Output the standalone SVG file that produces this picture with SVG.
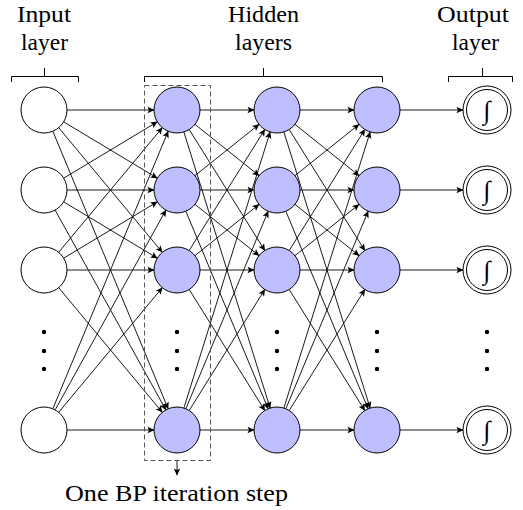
<svg xmlns="http://www.w3.org/2000/svg" width="523" height="510" viewBox="0 0 523 510">
<defs>
<marker id="ah" markerUnits="userSpaceOnUse" viewBox="-8 -4 9 8" markerWidth="9" markerHeight="8" refX="0" refY="0" orient="auto" overflow="visible">
<path d="M0.5,0 L-6.5,-3.2 L-5,0 L-6.5,3.2 Z" fill="#000"/>
</marker>
</defs>
<rect width="523" height="510" fill="#fff"/>

<g id="labels" font-family="Liberation Serif" font-size="23" fill="#000" text-anchor="middle">
<text x="44" y="21.5" textLength="54" lengthAdjust="spacingAndGlyphs">Input</text>
<text x="44.5" y="49.5" textLength="47" lengthAdjust="spacingAndGlyphs">layer</text>
<text x="263.5" y="21.5" textLength="71" lengthAdjust="spacingAndGlyphs">Hidden</text>
<text x="263.5" y="49.5" textLength="57" lengthAdjust="spacingAndGlyphs">layers</text>
<text x="473" y="21.5" textLength="72" lengthAdjust="spacingAndGlyphs">Output</text>
<text x="475.5" y="49.5" textLength="47" lengthAdjust="spacingAndGlyphs">layer</text>
<text x="176.5" y="500.5" textLength="223" lengthAdjust="spacingAndGlyphs">One BP iteration step</text>
</g>

<g id="brackets" fill="none" stroke="#000" stroke-width="1">
<path d="M11.5,82 V76.5 H78.5 V82 M44.5,76.5 V68"/>
<path d="M144.5,82 V76.5 H382.5 V82 M263.5,76.5 V68"/>
<path d="M448.5,82 V76.5 H512.5 V82 M482.5,76.5 V68"/>
</g>

<g id="connectors" stroke="#000" stroke-width="0.9" marker-end="url(#ah)">
<line x1="67" y1="110" x2="154" y2="110"/>
<line x1="63.71" y1="121.85" x2="157.29" y2="178.15"/>
<line x1="58.70" y1="127.69" x2="162.30" y2="252.31"/>
<line x1="52.83" y1="131.24" x2="168.17" y2="408.76"/>
<line x1="63.71" y1="178.15" x2="157.29" y2="121.85"/>
<line x1="67" y1="190" x2="154" y2="190"/>
<line x1="63.71" y1="201.85" x2="157.29" y2="258.15"/>
<line x1="55.15" y1="210.12" x2="165.85" y2="409.88"/>
<line x1="58.70" y1="252.31" x2="162.30" y2="127.69"/>
<line x1="63.71" y1="258.15" x2="157.29" y2="201.85"/>
<line x1="67" y1="270" x2="154" y2="270"/>
<line x1="58.70" y1="287.69" x2="162.30" y2="412.31"/>
<line x1="52.83" y1="408.76" x2="168.17" y2="131.24"/>
<line x1="55.15" y1="409.88" x2="165.85" y2="210.12"/>
<line x1="58.70" y1="412.31" x2="162.30" y2="287.69"/>
<line x1="67" y1="430" x2="154" y2="430"/>

<line x1="200" y1="110" x2="254" y2="110"/>
<line x1="194.96" y1="124.37" x2="259.04" y2="175.63"/>
<line x1="189.19" y1="129.50" x2="264.81" y2="250.50"/>
<line x1="183.86" y1="131.95" x2="270.14" y2="408.05"/>
<line x1="194.96" y1="175.63" x2="259.04" y2="124.37"/>
<line x1="200" y1="190" x2="254" y2="190"/>
<line x1="194.96" y1="204.37" x2="259.04" y2="255.63"/>
<line x1="185.85" y1="211.23" x2="268.15" y2="408.77"/>
<line x1="189.19" y1="250.50" x2="264.81" y2="129.50"/>
<line x1="194.96" y1="255.63" x2="259.04" y2="204.37"/>
<line x1="200" y1="270" x2="254" y2="270"/>
<line x1="189.19" y1="289.50" x2="264.81" y2="410.50"/>
<line x1="183.86" y1="408.05" x2="270.14" y2="131.95"/>
<line x1="185.85" y1="408.77" x2="268.15" y2="211.23"/>
<line x1="189.19" y1="410.50" x2="264.81" y2="289.50"/>
<line x1="200" y1="430" x2="254" y2="430"/>

<line x1="300" y1="110" x2="354" y2="110"/>
<line x1="294.96" y1="124.37" x2="359.04" y2="175.63"/>
<line x1="289.19" y1="129.50" x2="364.81" y2="250.50"/>
<line x1="283.86" y1="131.95" x2="370.14" y2="408.05"/>
<line x1="294.96" y1="175.63" x2="359.04" y2="124.37"/>
<line x1="300" y1="190" x2="354" y2="190"/>
<line x1="294.96" y1="204.37" x2="359.04" y2="255.63"/>
<line x1="285.85" y1="211.23" x2="368.15" y2="408.77"/>
<line x1="289.19" y1="250.50" x2="364.81" y2="129.50"/>
<line x1="294.96" y1="255.63" x2="359.04" y2="204.37"/>
<line x1="300" y1="270" x2="354" y2="270"/>
<line x1="289.19" y1="289.50" x2="364.81" y2="410.50"/>
<line x1="283.86" y1="408.05" x2="370.14" y2="131.95"/>
<line x1="285.85" y1="408.77" x2="368.15" y2="211.23"/>
<line x1="289.19" y1="410.50" x2="364.81" y2="289.50"/>
<line x1="300" y1="430" x2="354" y2="430"/>

<line x1="400" y1="110" x2="463" y2="110"/>
<line x1="400" y1="190" x2="463" y2="190"/>
<line x1="400" y1="270" x2="463" y2="270"/>
<line x1="400" y1="430" x2="463" y2="430"/>

<line x1="177" y1="461" x2="177" y2="475"/>
</g>

<g id="bp-step">
<rect x="144.5" y="85.5" width="66" height="375" fill="none" stroke="#555" stroke-width="1" stroke-dasharray="5,3"/>
</g>

<g id="input-layer" fill="#fff" stroke="#000" stroke-width="1">
<g id="input-1"><circle cx="44" cy="110" r="23"/></g>
<g id="input-2"><circle cx="44" cy="190" r="23"/></g>
<g id="input-3"><circle cx="44" cy="270" r="23"/></g>
<g id="input-n"><circle cx="44" cy="430" r="23"/></g>
</g>

<g id="hidden-layers" fill="#bfbfff" stroke="#000" stroke-width="1">
<g id="h1-1"><circle cx="177" cy="110" r="23"/></g>
<g id="h1-2"><circle cx="177" cy="190" r="23"/></g>
<g id="h1-3"><circle cx="177" cy="270" r="23"/></g>
<g id="h1-n"><circle cx="177" cy="430" r="23"/></g>
<g id="h2-1"><circle cx="277" cy="110" r="23"/></g>
<g id="h2-2"><circle cx="277" cy="190" r="23"/></g>
<g id="h2-3"><circle cx="277" cy="270" r="23"/></g>
<g id="h2-n"><circle cx="277" cy="430" r="23"/></g>
<g id="h3-1"><circle cx="377" cy="110" r="23"/></g>
<g id="h3-2"><circle cx="377" cy="190" r="23"/></g>
<g id="h3-3"><circle cx="377" cy="270" r="23"/></g>
<g id="h3-n"><circle cx="377" cy="430" r="23"/></g>
</g>

<g id="output-layer" fill="#fff" stroke="#000" stroke-width="1">
<g id="out-1"><circle cx="487" cy="110" r="24"/><circle cx="487" cy="110" r="20.5"/><text x="487" y="119" stroke="none" fill="#000" font-family="Liberation Serif" font-style="italic" font-size="26" text-anchor="middle">∫</text></g>
<g id="out-2"><circle cx="487" cy="190" r="24"/><circle cx="487" cy="190" r="20.5"/><text x="487" y="199" stroke="none" fill="#000" font-family="Liberation Serif" font-style="italic" font-size="26" text-anchor="middle">∫</text></g>
<g id="out-3"><circle cx="487" cy="270" r="24"/><circle cx="487" cy="270" r="20.5"/><text x="487" y="279" stroke="none" fill="#000" font-family="Liberation Serif" font-style="italic" font-size="26" text-anchor="middle">∫</text></g>
<g id="out-n"><circle cx="487" cy="430" r="24"/><circle cx="487" cy="430" r="20.5"/><text x="487" y="439" stroke="none" fill="#000" font-family="Liberation Serif" font-style="italic" font-size="26" text-anchor="middle">∫</text></g>
</g>

<g id="ellipses" fill="#000">
<circle cx="44" cy="332" r="2.2"/><circle cx="44" cy="351" r="2.2"/><circle cx="44" cy="369" r="2.2"/>
<circle cx="177" cy="332" r="2.2"/><circle cx="177" cy="351" r="2.2"/><circle cx="177" cy="369" r="2.2"/>
<circle cx="277" cy="332" r="2.2"/><circle cx="277" cy="351" r="2.2"/><circle cx="277" cy="369" r="2.2"/>
<circle cx="377" cy="332" r="2.2"/><circle cx="377" cy="351" r="2.2"/><circle cx="377" cy="369" r="2.2"/>
<circle cx="487" cy="332" r="2.2"/><circle cx="487" cy="351" r="2.2"/><circle cx="487" cy="369" r="2.2"/>
</g>
</svg>
